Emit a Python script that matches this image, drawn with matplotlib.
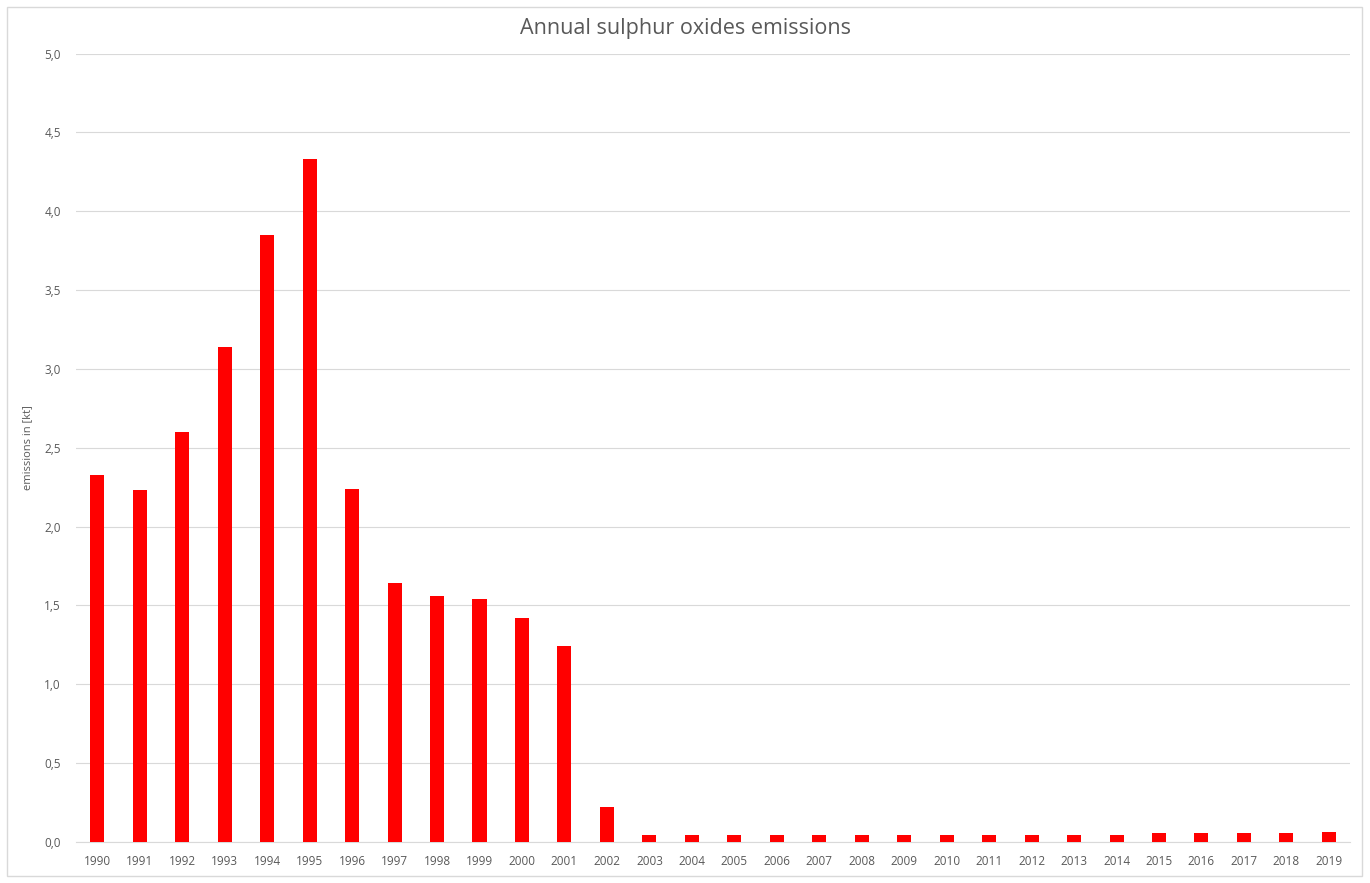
import numpy as np
import matplotlib
matplotlib.use('Agg')
import matplotlib.pyplot as plt
from matplotlib.patches import Rectangle
from matplotlib.ticker import FuncFormatter

years = [str(y) for y in range(1990, 2020)]
emissions = [2.33, 2.23, 2.60, 3.14, 3.85, 4.33, 2.24, 1.64, 1.56, 1.54,
             1.42, 1.24, 0.22, 0.045, 0.045, 0.045, 0.045, 0.045, 0.045, 0.045,
             0.045, 0.045, 0.045, 0.045, 0.045, 0.055, 0.055, 0.055, 0.055, 0.065]
yticks = [0, 0.5, 1.0, 1.5, 2.0, 2.5, 3.0, 3.5, 4.0, 4.5, 5.0]

plt.rcParams['font.family'] = ['Open Sans', 'DejaVu Sans']
grey = '#595959'

fig = plt.figure(figsize=(13.7, 8.83), dpi=100)
fig.patches.append(Rectangle((0.005, 0.008), 0.989, 0.984, transform=fig.transFigure,
                             fill=False, edgecolor='#d9d9d9', lw=1))
ax = fig.add_axes([0.0555, 0.0464, 0.930, 0.893])

x = np.arange(len(years))
ax.bar(x, emissions, width=0.33, color='#ff0000', zorder=3)

ax.set_xlim(-0.5, len(years) - 0.5)
ax.set_ylim(0, 5.0)
ax.set_yticks(yticks)
ax.yaxis.set_major_formatter(FuncFormatter(lambda v, p: f'{v:.1f}'.replace('.', ',')))
ax.set_xticks(x)
ax.set_xticklabels(years)
ax.tick_params(axis='both', length=0, labelsize=8.5, colors=grey)
ax.tick_params(axis='x', pad=9)
ax.tick_params(axis='y', pad=11)
ax.grid(axis='y', color='#d9d9d9', lw=0.8, zorder=0)
for s in ['top', 'right', 'left']:
    ax.spines[s].set_visible(False)
ax.spines['bottom'].set_color('#d9d9d9')

ax.set_ylabel('emissions in [kt]', fontsize=8, color=grey, labelpad=8)
fig.text(0.5, 0.968, 'Annual sulphur oxides emissions', ha='center', va='center',
         fontsize=15.5, color=grey)

fig.savefig('out.png', dpi=100, facecolor='white')
